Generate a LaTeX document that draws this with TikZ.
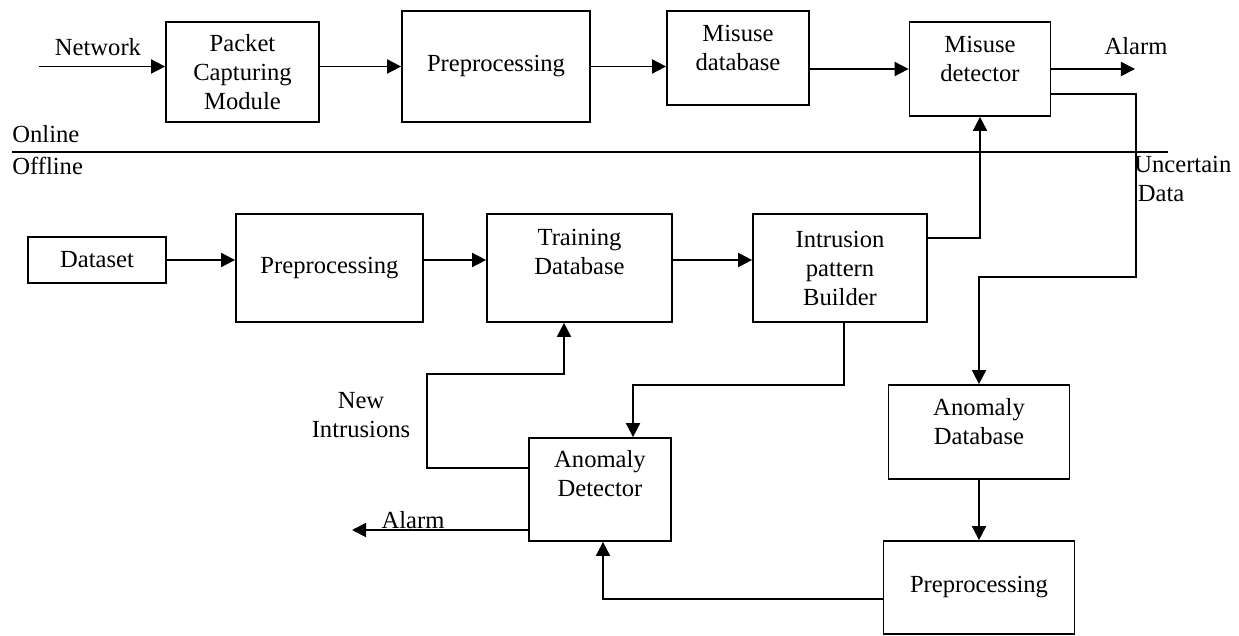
\documentclass[tikz,border=0pt]{standalone}
\usepackage{fontspec}
\setmainfont{Liberation Serif}
\usetikzlibrary{arrows.meta}

\begin{document}
\begin{tikzpicture}[
    blk/.style={draw, line width=1pt, align=center, inner sep=0pt},
    arr/.style={line width=1pt, -{Triangle[length=8pt,width=8pt]}},
    every node/.append style={font=\fontsize{14}{16.5}\selectfont}
]
\useasboundingbox (0,0) rectangle (24.78,12.7);

% online part
\node[blk, minimum width=3.06cm, minimum height=2cm] (pcm) at (4.85,11.26) {Packet\\Capturing\\Module};
\node[blk, minimum width=3.76cm, minimum height=2.22cm] (prepA) at (9.92,11.37) {Preprocessing};
\node[blk, minimum width=2.84cm, minimum height=1.88cm] (misdb) at (14.76,11.54) {Misuse\\database\\[-5pt]\mbox{}};
\node[blk, minimum width=2.82cm, minimum height=1.88cm] (misdet) at (19.60,11.32) {Misuse\\detector\\[-5pt]\mbox{}};

% offline part
\node[blk, minimum width=2.76cm, minimum height=0.92cm] (dataset) at (1.94,7.50) {Dataset};
\node[blk, minimum width=3.74cm, minimum height=2.16cm] (prepB) at (6.59,7.34) {Preprocessing};
\node[blk, minimum width=3.70cm, minimum height=2.16cm] (tdb) at (11.59,7.34) {Training\\Database\\[2pt]\mbox{}};
\node[blk, minimum width=3.48cm, minimum height=2.16cm] (ipb) at (16.80,7.34) {Intrusion\\pattern\\Builder};
\node[blk, minimum width=3.62cm, minimum height=1.88cm] (adb) at (19.58,4.06) {Anomaly\\Database\\[-5pt]\mbox{}};
\node[blk, minimum width=2.84cm, minimum height=2.06cm] (adet) at (12.00,2.91) {Anomaly\\Detector\\[2pt]\mbox{}};
\node[blk, minimum width=3.82cm, minimum height=1.86cm] (prepC) at (19.58,0.95) {Preprocessing};

% online / offline border
\coordinate (sepL) at (0.24,9.66);
\coordinate (sepR) at (23.36,9.66);
\draw[line width=1pt] (sepL) -- (sepR);
\node[anchor=south west, inner sep=0pt] (online) at (0.24,9.84) {Online};
\node[anchor=north west, inner sep=0pt] (offline) at (0.24,9.56) {Offline};

% top row
\coordinate (netin) at (0.78,11.37);
\draw[arr] (netin) -- (netin -| pcm.west);
\node (netlbl) at (1.96,11.76) {Network};
\draw[arr] (pcm.east |- prepA.west) -- (prepA.west);
\draw[arr] (prepA.east) -- (prepA.east -| misdb.west);
\draw[arr] (misdb.east |- misdet.west) -- (misdet.west);
\coordinate (alarmA) at (22.70,11.32);
\draw[arr] (misdet.east) -- (alarmA);
\node (alarmlblA) at (22.72,11.78) {Alarm};

% training row
\foreach \a/\b in {dataset/prepB, prepB/tdb, tdb/ipb}
    \draw[arr] (\a.east |- dataset.east) -- (\b.west |- dataset.east);
\draw[arr] ([yshift=0.6cm]ipb.east) -| (misdet.south);

% uncertain data
\coordinate (unc) at (22.72,7.16);
\draw[arr] ([yshift=-0.5cm]misdet.east) -| (unc) -| (adb.north);
\node[anchor=west, align=left, inner sep=0pt] (unclbl) at (22.68,9.12) {Uncertain\\\hspace{2pt}Data};
\draw[arr] (adb.south) -- (prepC.north);

% anomaly detection
\coordinate (bendA) at (12.66,5.00);
\draw[arr] ([xshift=0.08cm]ipb.south) |- (bendA) -- (bendA |- adet.north);
\coordinate (bendB) at (8.54,5.22);
\draw[arr] ([yshift=0.43cm]adet.west) -| (bendB) -| ([xshift=-0.31cm]tdb.south);
\node[align=center] (newlbl) at (7.22,4.40) {New\\Intrusions};
\coordinate (alarmB) at (7.04,2.10);
\draw[arr] (adet.west |- alarmB) -- (alarmB);
\node (alarmlblB) at (8.26,2.30) {Alarm};
\draw[arr] ([yshift=-0.23cm]prepC.west) -| ([xshift=0.06cm]adet.south);
\end{tikzpicture}
\end{document}
